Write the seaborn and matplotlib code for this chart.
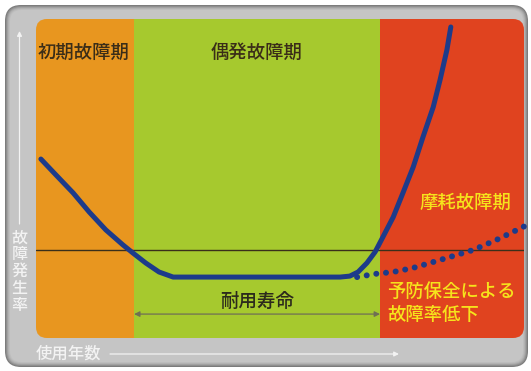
import matplotlib
matplotlib.use("Agg")
import matplotlib.pyplot as plt
from matplotlib.patches import FancyBboxPatch
import seaborn as sns
import pandas as pd

sns.set_style("white")
plt.rcParams['font.family'] = ['Noto Sans CJK JP', 'DejaVu Sans']

# ---- data (x: usage years, 0-100 ; y: failure rate, 0-100) ----
phase_names = ["初期故障期", "偶発故障期", "摩耗故障期"]
phase_edges = [0, 20.1, 70.5, 100]
phase_colors = ["#e8961f", "#a6c92e", "#e0431f"]

bathtub_x = [1.0, 4.1, 7.6, 10.9, 14.3, 17.8, 19.9, 22.5, 25.2, 28.1, 30.1,
             62.3, 64.3, 66.0, 67.8, 69.5, 71.1, 73.2, 75.2, 77.3, 79.3, 81.4,
             82.8, 84.2, 85.0]
bathtub_y = [56.1, 51.1, 45.5, 39.5, 33.9, 29.2, 26.6, 23.5, 20.7, 19.1, 19.1,
             19.1, 19.4, 20.7, 23.5, 27.0, 31.7, 37.9, 45.5, 53.6, 63.0, 72.4,
             80.9, 90.3, 97.5]

pm_x = [65.8, 69.5, 73.2, 77.1, 80.7, 84.2, 89.6, 94.7, 100.2]
pm_y = [19.1, 20.1, 20.7, 21.9, 23.5, 25.1, 27.6, 31.0, 35.1]

reference_rate = 27.6
life_span = [20.1, 70.5]

W, H = 531, 371
fig = plt.figure(figsize=(W / 100, H / 100), dpi=100)
fig.patch.set_facecolor("white")

# background decoration axes in pixel coordinates
bg = fig.add_axes([0, 0, 1, 1])
bg.set_xlim(0, W)
bg.set_ylim(H, 0)
bg.axis("off")

rim = ["#7c7c7c", "#8f8f8f", "#a2a2a2", "#b2b2b2", "#bdbdbd", "#c5c5c5"]
for i, c in enumerate(rim):
    bg.add_patch(FancyBboxPatch((5 + i, 5 + i), 523 - 2 * i, 362 - 2 * i,
                                boxstyle=f"round,pad=0,rounding_size={16 - i}",
                                fc=c, ec="none", zorder=1 + i * 0.01))

# main axes over the coloured area
ax = fig.add_axes([36 / W, (H - 338) / H, 488 / W, 319 / H])
ax.set_xlim(0, 100)
ax.set_ylim(0, 100)
ax.axis("off")
ax.patch.set_alpha(0)

clip = FancyBboxPatch((36, 19), 488, 319, boxstyle="round,pad=0,rounding_size=11",
                      transform=bg.transData, fc="none", ec="none")

for i in range(3):
    sp = ax.axvspan(phase_edges[i], phase_edges[i + 1], color=phase_colors[i], lw=0, zorder=0)
    sp.set_clip_path(clip)

ax.axhline(reference_rate, color="#3a2f1a", lw=1.0, zorder=1)

navy = "#1d3b8a"
df_main = pd.DataFrame({"x": bathtub_x, "y": bathtub_y})
sns.lineplot(data=df_main, x="x", y="y", sort=False, estimator=None, ax=ax,
             color=navy, lw=3.6, solid_capstyle="round", solid_joinstyle="round", zorder=3)

df_pm = pd.DataFrame({"x": pm_x, "y": pm_y})
sns.lineplot(data=df_pm, x="x", y="y", sort=False, estimator=None, ax=ax,
             color=navy, lw=4.3, zorder=3)
line = ax.lines[-1]
line.set_linestyle((0, (0.01, 1.62)))
line.set_dash_capstyle("round")
line.set_clip_on(False)
ax.set_xlabel("")
ax.set_ylabel("")

# life span arrow
ax.annotate("", xy=(life_span[0], 7.5), xytext=(life_span[1], 7.5),
            arrowprops=dict(arrowstyle="<|-|>", color="#6f6f55", lw=0.9,
                            mutation_scale=8, shrinkA=0, shrinkB=0), zorder=4)
ax.text(sum(life_span) / 2, 11.3, "耐用寿命", ha="center", va="center",
        fontsize=13.3, color="#2c2a1c", fontweight="medium", zorder=5)

dark = "#3a2d18"
yellow = "#f6e31c"
fw = "medium"
ax.text((phase_edges[0] + phase_edges[1]) / 2 - 0.3, 89.3, phase_names[0], ha="center",
        va="center", fontsize=13.2, color=dark, fontweight=fw, zorder=5)
ax.text(45.2, 89.3, phase_names[1], ha="center", va="center", fontsize=13.2,
        color=dark, fontweight=fw, zorder=5)
ax.text(97.5, 42.3, phase_names[2], ha="right", va="center", fontsize=13.2,
        color=yellow, fontweight=fw, zorder=5)
ax.text(72.0, 14.4, "予防保全による", ha="left", va="center", fontsize=13.2,
        color=yellow, fontweight=fw, zorder=5)
ax.text(72.0, 7.2, "故障率低下", ha="left", va="center", fontsize=13.2,
        color=yellow, fontweight=fw, zorder=5)

# axis labels and arrows (white)
white = "#f3f3f3"
for i, ch in enumerate("故障発生率"):
    bg.text(19.5, 238 + 16.8 * i, ch, ha="center", va="center", fontsize=11.5,
            color=white, fontweight=fw, zorder=5)
bg.annotate("", xy=(19.5, 31), xytext=(19.5, 224),
            arrowprops=dict(arrowstyle="-|>", color=white, lw=0.9, mutation_scale=7,
                            shrinkA=0, shrinkB=0), zorder=5)
bg.text(36, 354, "使用年数", ha="left", va="center", fontsize=11.8, color=white,
        fontweight=fw, zorder=5)
bg.annotate("", xy=(399, 354), xytext=(110, 354),
            arrowprops=dict(arrowstyle="-|>", color=white, lw=0.9, mutation_scale=7,
                            shrinkA=0, shrinkB=0), zorder=5)

fig.savefig("out.png", dpi=100, facecolor="white")
